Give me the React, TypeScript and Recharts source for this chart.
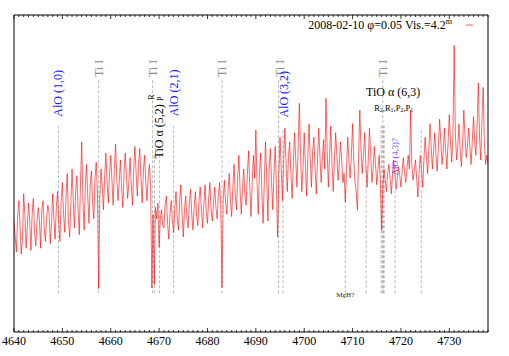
import {
  ComposedChart, Line, XAxis, YAxis, ReferenceLine, ReferenceDot, Customized,
} from 'recharts';

const SERIF = '"Liberation Serif", "Times New Roman", serif';

// spectrum sampling: first wavelength and step (Å)
const WAVE0 = 4640;
const STEP = 0.25;

// relative flux, one value per STEP (5 Å per row)
const FLUX = [
  2.45, 2.1, 1.77, 2.55, 2.9, 2.35, 1.72, 2.05, 3.05, 2.6, 1.85, 2.3, 2.85, 2.45, 1.8, 2.6, 2.95, 2.2, 1.9, 2.4,
  2.75, 2.5, 1.85, 2.7, 2.9, 2.3, 2.0, 2.55, 2.8, 2.65, 1.95, 2.4, 3.05, 2.5, 2.05, 2.75, 3.1, 2.4, 2.0, 2.9,
  3.3, 2.6, 2.2, 3.0, 3.5, 2.45, 2.1, 2.8, 3.6, 2.9, 2.3, 3.1, 3.45, 2.7, 2.15, 3.3, 4.2, 2.9, 2.25, 3.2,
  3.7, 3.0, 2.4, 3.25, 3.55, 2.85, 2.5, 3.4, 3.75, 3.1, 0.96, 3.0, 3.6, 3.2, 2.7, 3.45, 3.95, 3.3, 2.85, 3.5,
  3.9, 3.35, 2.8, 3.6, 4.15, 3.4, 2.9, 3.3, 3.8, 3.2, 2.75, 3.5, 3.95, 3.45, 2.95, 3.3, 3.85, 3.25, 2.8, 3.6,
  4.1, 3.5, 3.0, 3.7, 4.05, 3.4, 2.85, 3.55, 3.9, 3.3, 2.9, 3.45, 3.7, 3.2, 0.97, 2.6, 1.05, 2.75, 2.5, 2.85,
  1.87, 2.5, 2.7, 2.35, 2.3, 2.8, 3.0, 2.4, 2.05, 2.6, 2.9, 2.45, 2.2, 2.75, 3.1, 2.5, 2.25, 2.9, 3.25, 2.6,
  2.1, 2.7, 3.0, 2.5, 2.3, 2.85, 3.15, 2.6, 2.25, 2.75, 3.1, 2.55, 2.35, 2.9, 3.2, 2.7, 2.3, 2.8, 3.25, 2.65,
  2.4, 2.95, 3.3, 2.7, 2.45, 2.85, 3.2, 2.75, 2.5, 3.0, 3.3, 2.8, 0.98, 2.9, 3.35, 2.85, 2.6, 3.1, 3.5, 2.9,
  2.55, 3.2, 3.7, 3.0, 2.7, 3.4, 3.9, 3.1, 2.6, 3.2, 3.6, 3.0, 2.8, 3.5, 4.0, 3.2, 2.55, 3.3, 3.9, 3.4,
  4.46, 3.3, 2.6, 3.5, 3.95, 3.1, 2.4, 3.3, 4.2, 3.4, 2.45, 3.6, 4.05, 3.3, 2.7, 3.5, 4.1, 3.2, 2.1, 3.4,
  4.3, 3.6, 2.9, 3.8, 4.5, 3.7, 3.1, 3.9, 4.2, 3.5, 2.95, 3.7, 4.4, 3.8, 3.2, 4.1, 5.05, 3.9, 3.1, 3.6,
  4.4, 3.7, 3.0, 3.9, 4.6, 3.8, 3.2, 4.0, 4.3, 3.6, 3.05, 3.8, 4.5, 3.9, 3.3, 3.8, 4.25, 3.6, 5.16, 4.0,
  3.2, 3.9, 4.55, 3.7, 3.1, 3.8, 4.4, 3.9, 3.35, 3.7, 4.2, 3.8, 3.3, 3.5, 2.87, 3.6, 4.3, 3.8, 3.4, 3.9,
  4.6, 3.8, 3.3, 3.1, 2.69, 3.9, 4.9, 4.0, 3.5, 3.9, 4.4, 3.7, 3.2, 3.8, 4.5, 3.9, 3.3, 3.6, 4.1, 3.7,
  3.25, 3.6, 3.9, 3.3, 2.25, 3.2, 3.6, 3.35, 3.1, 3.5, 3.7, 3.4, 3.05, 3.45, 3.8, 3.5, 3.15, 3.4, 3.65, 3.45,
  3.2, 3.55, 3.85, 3.5, 3.3, 3.6, 3.9, 3.6, 4.9, 3.7, 3.35, 3.55, 3.8, 3.4, 2.98, 3.5, 3.9, 3.6, 3.2, 3.8,
  4.3, 3.9, 3.5, 4.0, 4.6, 4.1, 3.6, 4.0, 4.4, 3.9, 3.55, 4.1, 4.7, 4.2, 3.7, 4.0, 4.5, 4.0, 3.6, 4.2,
  4.8, 4.2, 3.75, 4.3, 6.33, 4.4, 3.8, 4.1, 4.6, 4.0, 3.65, 4.2, 4.9, 4.3, 3.85, 4.1, 4.5, 4.1, 3.7, 4.2,
  4.75, 4.2, 3.9, 4.6, 5.5, 4.3, 3.8, 4.7, 5.4, 4.2, 3.7, 3.9, 3.7,
];

const X_DOMAIN = [4640, 4738];
const MAJOR_TICKS = [4640, 4650, 4660, 4670, 4680, 4690, 4700, 4710, 4720, 4730];
const Y_TICKS = [0, 1, 2, 3, 4, 5, 6, 7];

// line identifications: wavelength and top of the dashed marker (flux units)
const MARK_BOTTOM = 0.855;
const MARK_WL = [4649.2, 4657.5, 4668.65, 4669.05, 4670.1, 4673.0, 4683.0, 4694.7, 4695.6,
  4708.5, 4712.8, 4715.9, 4716.1, 4716.25, 4716.4, 4716.55, 4718.8, 4724.2];
const MARK_TOP = [4.55, 5.6, 5.6, 3.9, 3.9, 4.55, 5.6, 5.6, 4.5,
  3.13, 3.64, 4.55, 4.55, 5.6, 4.55, 4.55, 3.17, 4.52];

type Lbl = { wl: number; y: number; text: string; color: string; size: number; rot: boolean; sub?: boolean };
const LABELS: Lbl[] = [
  { wl: 4649.2, y: 5.27, text: 'AlO (1,0)', color: '#1a1aff', size: 12, rot: true },
  { wl: 4657.5, y: 5.82, text: 'Ti I', color: '#8c8c8c', size: 12, rot: true },
  { wl: 4668.65, y: 5.82, text: 'Ti I', color: '#8c8c8c', size: 12, rot: true },
  { wl: 4669.9, y: 4.43, text: 'TiO α (5,2)', color: '#000', size: 12, rot: true },
  { wl: 4668.43, y: 5.19, text: 'R', color: '#000', size: 8, rot: true },
  { wl: 4670.37, y: 5.15, text: 'P', color: '#000', size: 8, rot: true },
  { wl: 4673.0, y: 5.28, text: 'AlO (2,1)', color: '#1a1aff', size: 12, rot: true },
  { wl: 4683.0, y: 5.82, text: 'Ti I', color: '#8c8c8c', size: 12, rot: true },
  { wl: 4694.9, y: 5.82, text: 'Ti I', color: '#8c8c8c', size: 12, rot: true },
  { wl: 4695.75, y: 5.25, text: 'AlO (3,2)', color: '#1a1aff', size: 12, rot: true },
  { wl: 4716.3, y: 5.82, text: 'Ti I', color: '#8c8c8c', size: 12, rot: true },
  { wl: 4718.4, y: 5.3, text: 'TiO α (6,3)', color: '#000', size: 12, rot: false },
  { wl: 4718.5, y: 4.95, text: 'R2,R1,P2,P1', color: '#000', size: 8.5, rot: false, sub: true },
  { wl: 4718.7, y: 3.87, text: 'AlO (4,3)?', color: '#6a3cff', size: 8.5, rot: true },
  { wl: 4708.5, y: 0.82, text: 'MgH?', color: '#222', size: 7, rot: false },
];

const rows = FLUX.map((f, i) => ({ wl: WAVE0 + i * STEP, flux: f }));

const allTicks: number[] = [];
for (let t = X_DOMAIN[0]; t <= X_DOMAIN[1]; t++) allTicks.push(t);

function BottomTick(props: any) {
  const { x, y, payload } = props;
  const major = MAJOR_TICKS.includes(payload.value);
  return (
    <g>
      <line x1={x} x2={x} y1={y} y2={y - (major ? 4 : 2)} stroke="#000" strokeWidth={0.8} />
      {major && (
        <text x={x} y={y + 13} textAnchor="middle" fontSize={12} fontFamily={SERIF} fill="#000">
          {payload.value}
        </text>
      )}
    </g>
  );
}

function TopTick(props: any) {
  const { x, y, payload } = props;
  const major = MAJOR_TICKS.includes(payload.value);
  return <line x1={x} x2={x} y1={y} y2={y + (major ? 4 : 2)} stroke="#000" strokeWidth={0.8} />;
}

function renderLabel(p: any, l: Lbl) {
  const { cx, cy } = p;
  let content: any = l.text;
  if (l.sub) {
    content = l.text.split('').map((ch, i) =>
      /\d/.test(ch)
        ? <tspan key={i} dy={2} fontSize={l.size * 0.7}>{ch}</tspan>
        : <tspan key={i} dy={i > 0 && /\d/.test(l.text[i - 1]) ? -2 : 0}>{ch}</tspan>,
    );
  }
  return (
    <text
      x={cx}
      y={cy}
      transform={l.rot ? `rotate(-90 ${cx} ${cy})` : undefined}
      textAnchor="middle"
      dominantBaseline="central"
      fontSize={l.size}
      fontFamily={SERIF}
      fill={l.color}
    >
      {content}
    </text>
  );
}

function LegendBox() {
  return (
    <g fontFamily={SERIF}>
      <text x={452} y={29} textAnchor="end" fontSize={12} fill="#000">
        2008-02-10 φ=0.05 Vis.=4.2<tspan dy={-5} fontSize={8}>m</tspan>
      </text>
      <line x1={466} x2={473} y1={25} y2={25} stroke="#ff3030" strokeWidth={0.8} />
    </g>
  );
}

export default function App() {
  return (
    <div style={{ position: 'fixed', left: 0, top: 0, width: 509, height: 356, background: '#fff' }}>
      <ComposedChart width={509} height={356} data={rows} margin={{ top: 14, right: 20, bottom: 0, left: 13 }}>
        <XAxis
          xAxisId="b" dataKey="wl" type="number" domain={X_DOMAIN} allowDataOverflow
          ticks={allTicks} interval={0} tickSize={0} tickMargin={0} tickLine={false}
          tick={<BottomTick />} height={24} stroke="#000"
        />
        <XAxis
          xAxisId="t" orientation="top" dataKey="wl" type="number" domain={X_DOMAIN} allowDataOverflow
          ticks={allTicks} interval={0} tickSize={0} tickMargin={0} tickLine={false}
          tick={<TopTick />} height={1} stroke="#000"
        />
        <YAxis
          yAxisId="l" type="number" domain={[0, 7]} ticks={Y_TICKS} allowDataOverflow interval={0}
          tick={false} tickSize={-5} width={1} stroke="#000" tickLine={{ stroke: '#000' }}
        />
        <YAxis
          yAxisId="r" orientation="right" type="number" domain={[0, 7]} ticks={Y_TICKS} allowDataOverflow interval={0}
          tick={false} tickSize={-5} width={1} stroke="#000" tickLine={{ stroke: '#000' }}
        />
        {MARK_WL.map((wl, i) => (
          <ReferenceLine
            key={'m' + i}
            xAxisId="b"
            yAxisId="l"
            segment={[{ x: wl, y: MARK_BOTTOM }, { x: wl, y: MARK_TOP[i] }]}
            stroke="#a8a8a8"
            strokeDasharray="3 2"
            strokeWidth={0.8}
          />
        ))}
        <Line
          xAxisId="b"
          yAxisId="l"
          dataKey="flux"
          type="linear"
          stroke="#ff0000"
          strokeWidth={0.6}
          dot={false}
          isAnimationActive={false}
        />
        {LABELS.map((l, i) => (
          <ReferenceDot
            key={'l' + i}
            xAxisId="b"
            yAxisId="l"
            x={l.wl}
            y={l.y}
            r={1}
            ifOverflow="visible"
            shape={(p: any) => renderLabel(p, l)}
          />
        ))}
        <Customized component={<LegendBox />} />
      </ComposedChart>
    </div>
  );
}
